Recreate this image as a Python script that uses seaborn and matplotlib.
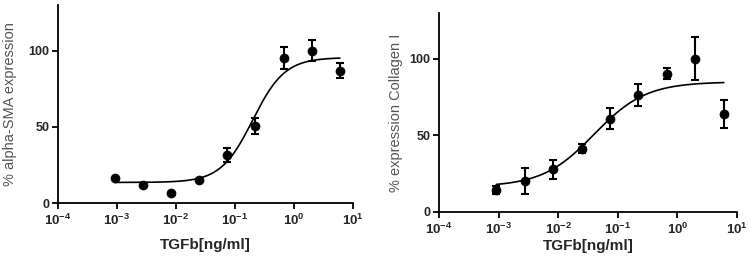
import numpy as np
import pandas as pd
import matplotlib
matplotlib.use("Agg")
import matplotlib.pyplot as plt
import seaborn as sns

# ---- data ----
dose = [0.000914, 0.00274, 0.00823, 0.0247, 0.0741, 0.222, 0.667, 2.0, 6.0]

sma_mean = [16.5, 11.6, 6.6, 15.4, 31.2, 50.5, 95.2, 100.0, 86.8]
sma_err = [0.0, 0.0, 0.0, 0.0, 4.6, 5.0, 7.5, 7.0, 5.0]
sma_fit = dict(bottom=13.5, top=95.5, ec50=0.2, hill=1.6)

col_mean = [14.3, 20.2, 27.9, 41.3, 60.9, 76.5, 90.3, 100.0, 64.2]
col_err = [2.5, 8.3, 6.3, 3.0, 7.0, 7.0, 3.5, 14.0, 9.0]
col_fit = dict(bottom=16.5, top=85.0, ec50=0.04, hill=1.0)

xticks = [1e-4, 1e-3, 1e-2, 1e-1, 1e0, 1e1]
xticklabels = [r"$\mathbf{10^{-4}}$", r"$\mathbf{10^{-3}}$", r"$\mathbf{10^{-2}}$",
               r"$\mathbf{10^{-1}}$", r"$\mathbf{10^{0}}$", r"$\mathbf{10^{1}}$"]
yticks = [0, 50, 100]
ylabels = ["% alpha-SMA expression", "% expression Collagen I"]
xlabel = "TGFb[ng/ml]"

sns.set_style("ticks")
plt.rcParams["font.family"] = ["Liberation Sans", "DejaVu Sans"]
plt.rcParams["mathtext.fontset"] = "custom"
plt.rcParams["mathtext.bf"] = "Liberation Sans:bold"
plt.rcParams["mathtext.rm"] = "Liberation Sans"

fig = plt.figure(figsize=(7.5, 2.65), dpi=100)
axL = fig.add_axes([58/750, (265-203)/265, 295/750, 198/265])
axR = fig.add_axes([439/750, (265-212)/265, 298/750, 199/265])


def four_pl(x, p):
    return p["bottom"] + (p["top"] - p["bottom"]) / (1 + (p["ec50"] / x) ** p["hill"])


panels = [(axL, sma_mean, sma_err, sma_fit, ylabels[0], -0.162, -0.175),
          (axR, col_mean, col_err, col_fit, ylabels[1], -0.145, -0.135)]
for ax, mean, err, fit, ylab, ylx, xly in panels:
    xs = np.logspace(np.log10(dose[0]), np.log10(dose[-1]), 300)
    curve = pd.DataFrame({"x": xs, "y": four_pl(xs, fit)})
    sns.lineplot(data=curve, x="x", y="y", ax=ax, color="black", lw=1.2)
    ax.errorbar(dose, mean, yerr=err, fmt="none", ecolor="black",
                elinewidth=1.5, capsize=3.2, capthick=1.5)
    sns.scatterplot(x=dose, y=mean, ax=ax, color="black", s=42,
                    edgecolor="black", zorder=5)
    ax.set_xscale("log")
    ax.set_xlim(1e-4, 1e1)
    ax.set_ylim(0, 130)
    ax.set_xticks(xticks)
    ax.set_xticklabels(xticklabels, fontsize=9.5)
    ax.minorticks_off()
    ax.set_yticks(yticks)
    ax.set_yticklabels([str(v) for v in yticks], fontsize=9, fontweight="bold")
    ax.tick_params(axis="both", length=4, width=1.3, color="black")
    ax.tick_params(axis="x", pad=3)
    ax.tick_params(axis="y", pad=2)
    for s in ["left", "bottom"]:
        ax.spines[s].set_linewidth(1.3)
        ax.spines[s].set_color("black")
    sns.despine(ax=ax)
    ax.set_xlabel(xlabel, fontsize=11, fontweight="bold")
    ax.xaxis.set_label_coords(0.5, xly)
    ax.set_ylabel(ylab, fontsize=10.5, color="#555555", va="center")
    ax.yaxis.set_label_coords(ylx, 0.5)

fig.savefig("out.png", dpi=100)
